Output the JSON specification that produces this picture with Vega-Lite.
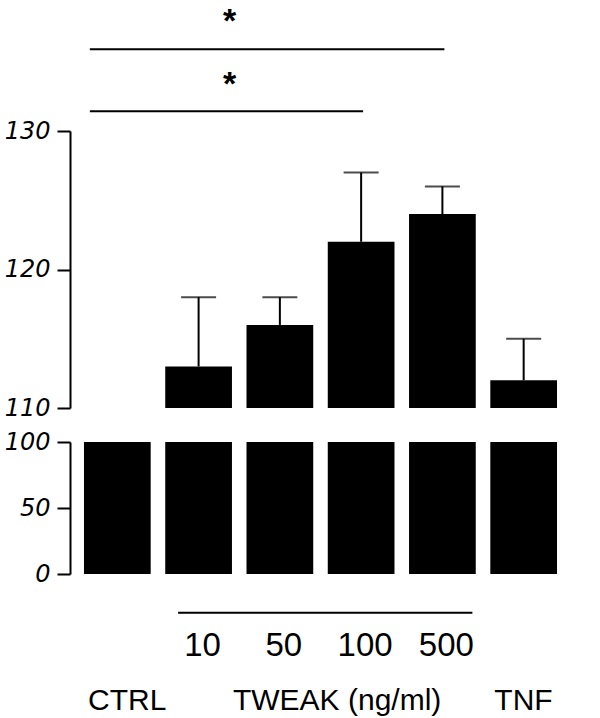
{
  "$schema": "https://vega.github.io/schema/vega-lite/v6.json",
  "padding": {"left": 4, "top": 5, "right": 5, "bottom": 0},
  "config": {
    "view": {"stroke": null},
    "font": "Liberation Sans",
    "axis": {"domainColor": "#000", "tickColor": "#000", "labelColor": "#000", "grid": false}
  },
  "datasets": {
    "main": [
      {"group": "CTRL", "value": 100, "upper": 100},
      {"group": "10", "value": 113, "upper": 118},
      {"group": "50", "value": 116, "upper": 118},
      {"group": "100", "value": 122, "upper": 127},
      {"group": "500", "value": 124, "upper": 126},
      {"group": "TNF", "value": 112, "upper": 115}
    ]
  },
  "bounds": "flush",
  "spacing": 34,
  "vconcat": [
    {
      "width": 501,
      "height": 277,
      "layer": [
        {
          "data": {"name": "main"},
          "mark": {"type": "bar", "color": "#000", "clip": true},
          "encoding": {
            "x": {"field": "group", "type": "nominal", "sort": null,
              "scale": {"type": "band", "domain": ["CTRL", "10", "50", "100", "500", "TNF"], "paddingInner": 0.179, "paddingOuter": 0.172},
              "axis": null},
            "y": {"field": "value", "type": "quantitative",
              "scale": {"domain": [110, 130], "nice": false, "zero": false},
              "axis": {"values": [110, 120, 130], "title": null, "domainWidth": 2, "tickWidth": 2, "tickSize": 13,
                "labelFont": "DejaVu Sans", "labelFontStyle": "italic", "labelFontSize": 24, "labelPadding": 7}},
            "y2": {"datum": 110}
          }
        },
        {
          "data": {"name": "main"},
          "transform": [{"filter": "datum.upper > datum.value"}],
          "mark": {"type": "rule", "color": "#000", "strokeWidth": 2},
          "encoding": {
            "x": {"field": "group", "type": "nominal"},
            "y": {"field": "value", "type": "quantitative"},
            "y2": {"field": "upper"}
          }
        },
        {
          "data": {"name": "main"},
          "transform": [{"filter": "datum.upper > datum.value"}],
          "mark": {"type": "tick", "color": "#000", "size": 35, "thickness": 2, "orient": "horizontal"},
          "encoding": {
            "x": {"field": "group", "type": "nominal"},
            "y": {"field": "upper", "type": "quantitative"}
          }
        },
        {
          "data": {"values": [{"from": "CTRL", "to": "500", "label": "*"}]},
          "layer": [
            {
              "mark": {"type": "rule", "color": "#000", "strokeWidth": 2, "xOffset": -27.5, "x2Offset": 2},
              "encoding": {"x": {"field": "from", "type": "nominal"}, "x2": {"field": "to"}, "y": {"datum": 135.9}}
            },
            {
              "mark": {"type": "text", "color": "#000", "fontSize": 34, "fontWeight": "bold", "baseline": "alphabetic", "dy": -17, "dx": 31},
              "encoding": {"x": {"datum": "10"}, "y": {"datum": 135.9}, "text": {"field": "label"}}
            }
          ]
        },
        {
          "data": {"values": [{"from": "CTRL", "to": "100", "label": "*"}]},
          "layer": [
            {
              "mark": {"type": "rule", "color": "#000", "strokeWidth": 2, "xOffset": -27.5, "x2Offset": 2},
              "encoding": {"x": {"field": "from", "type": "nominal"}, "x2": {"field": "to"}, "y": {"datum": 131.42}}
            },
            {
              "mark": {"type": "text", "color": "#000", "fontSize": 34, "fontWeight": "bold", "baseline": "alphabetic", "dy": -16, "dx": 31},
              "encoding": {"x": {"datum": "10"}, "y": {"datum": 131.42}, "text": {"field": "label"}}
            }
          ]
        },
        {
          "mark": {"type": "rule", "color": "#000", "strokeWidth": 2, "xOffset": -47.5, "x2Offset": -39.5},
          "encoding": {"x": {"datum": "CTRL"}, "x2": {"datum": "CTRL"}, "y": {"datum": 110}}
        }
      ]
    },
    {
      "width": 501,
      "height": 132,
      "layer": [
        {
          "data": {"name": "main"},
          "mark": {"type": "bar", "color": "#000", "clip": true},
          "encoding": {
            "x": {"field": "group", "type": "nominal", "sort": null,
              "scale": {"type": "band", "domain": ["CTRL", "10", "50", "100", "500", "TNF"], "paddingInner": 0.179, "paddingOuter": 0.172},
              "axis": {"orient": "bottom", "domain": false, "ticks": false, "tickSize": 0, "labelPadding": 55,
                "labelFontSize": 33, "labelFont": "Liberation Sans", "labelAngle": 0, "labelOffset": 4, "title": null,
                "labelOverlap": false, "labelBound": false,
                "labelExpr": "datum.value == 'CTRL' || datum.value == 'TNF' ? '' : datum.value"}},
            "y": {"field": "value", "type": "quantitative",
              "scale": {"domain": [0, 100], "nice": false},
              "axis": {"values": [0, 50, 100], "title": null, "domainWidth": 2, "tickWidth": 2, "tickSize": 13,
                "labelFont": "DejaVu Sans", "labelFontStyle": "italic", "labelFontSize": 24, "labelPadding": 7}},
            "y2": {"datum": 0}
          }
        },
        {
          "data": {"values": [{"from": "10", "to": "500"}]},
          "mark": {"type": "rule", "color": "#000", "strokeWidth": 2, "xOffset": -20.5, "x2Offset": 30},
          "encoding": {"x": {"field": "from", "type": "nominal"}, "x2": {"field": "to"}, "y": {"datum": -29.3}}
        },
        {
          "data": {"values": [{"cat": "CTRL", "label": "CTRL"}, {"cat": "TNF", "label": "TNF"}]},
          "mark": {"type": "text", "color": "#000", "align": "left", "baseline": "alphabetic", "fontSize": 30, "dx": 4},
          "encoding": {"x": {"field": "cat", "type": "nominal", "bandPosition": 0}, "y": {"datum": -103}, "text": {"field": "label"}}
        },
        {
          "data": {"values": [{"cat": "10", "label": "TWEAK (ng/ml)"}]},
          "mark": {"type": "text", "color": "#000", "align": "left", "baseline": "alphabetic", "fontSize": 30, "dx": 1},
          "encoding": {"x": {"field": "cat", "type": "nominal", "bandPosition": 1}, "y": {"datum": -103}, "text": {"field": "label"}}
        },
        {
          "mark": {"type": "rule", "color": "#000", "strokeWidth": 2, "xOffset": -47.5, "x2Offset": -39.5},
          "encoding": {"x": {"datum": "CTRL"}, "x2": {"datum": "CTRL"}, "y": {"datum": 100}}
        },
        {
          "mark": {"type": "rule", "color": "#000", "strokeWidth": 2, "xOffset": -47.5, "x2Offset": -34.5},
          "encoding": {"x": {"datum": "CTRL"}, "x2": {"datum": "CTRL"}, "y": {"datum": 0}}
        }
      ]
    }
  ]
}
